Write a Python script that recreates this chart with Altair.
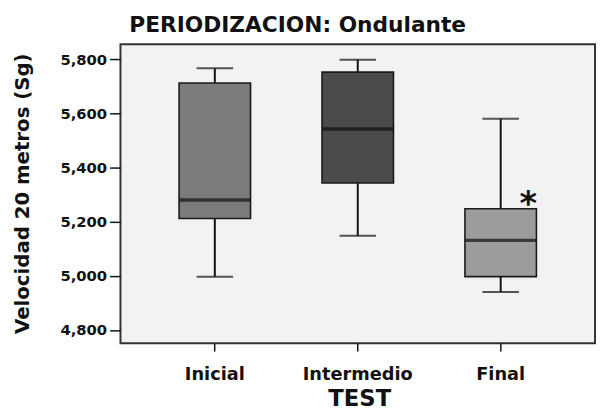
import altair as alt
import pandas as pd

categories = ["Inicial", "Intermedio", "Final"]
whisker_low = [4997, 5148, 4940]
q1 = [5212, 5343, 4997]
median = [5280, 5543, 5131]
q3 = [5713, 5753, 5248]
whisker_high = [5767, 5799, 5581]
box_colors = ["#7b7b7b", "#4b4b4b", "#9c9c9c"]

outlier_test = ["Final"]
outlier_value = [5286]

y_ticks = [4800, 5000, 5200, 5400, 5600, 5800]

df = pd.DataFrame({
    "test": categories,
    "lo": whisker_low,
    "q1": q1,
    "med": median,
    "q3": q3,
    "hi": whisker_high,
})
df_out = pd.DataFrame({"test": outlier_test, "val": outlier_value})

FONT = "DejaVu Sans"

xenc = alt.X(
    "test:N",
    sort=categories,
    scale=alt.Scale(paddingInner=0.5, paddingOuter=0.41),
    axis=alt.Axis(
        title="TEST",
        labelAngle=0,
        labelFont=FONT,
        labelFontWeight="bold",
        labelFontSize=18,
        labelColor="#111",
        labelPadding=15,
        tickSize=8,
        tickWidth=1.5,
        tickColor="#111",
        domain=False,
        grid=False,
        titleFont=FONT,
        titleFontWeight="bold",
        titleFontSize=23,
        titleColor="#111",
        titleX=242,
        titleY=56,
        titleAlign="center",
        titleBaseline="middle",
    ),
)

yscale = alt.Scale(domain=[4751, 5856], nice=False, zero=False)
yaxis = alt.Axis(
    title="Velocidad 20 metros (Sg)",
    values=y_ticks,
    format=",d",
    labelFont=FONT,
    labelFontWeight="bold",
    labelFontSize=15,
    labelColor="#111",
    labelPadding=3,
    tickSize=11,
    tickWidth=1.5,
    tickColor="#111",
    domain=False,
    grid=False,
    titleFont=FONT,
    titleFontWeight="bold",
    titleFontSize=20,
    titleColor="#111",
    titleAngle=270,
    titleX=-99,
    titleY=151,
    titleAlign="center",
    titleBaseline="middle",
)

base = alt.Chart(df)

whisker = base.mark_rule(color="#111", strokeWidth=2).encode(
    x=xenc,
    y=alt.Y("lo:Q", scale=yscale, axis=yaxis),
    y2="hi:Q",
)

caps_lo = base.mark_tick(color="#111", orient="horizontal", size=37, thickness=2).encode(
    x=xenc, y=alt.Y("lo:Q", scale=yscale)
)
caps_hi = base.mark_tick(color="#111", orient="horizontal", size=37, thickness=2).encode(
    x=xenc, y=alt.Y("hi:Q", scale=yscale)
)

box = base.mark_bar(stroke="#1a1a1a", strokeWidth=1.6).encode(
    x=xenc,
    y=alt.Y("q1:Q", scale=yscale),
    y2="q3:Q",
    color=alt.Color("test:N", scale=alt.Scale(domain=categories, range=box_colors), legend=None),
)

med = base.mark_tick(color="#111", orient="horizontal", size=72, thickness=3.5).encode(
    x=xenc, y=alt.Y("med:Q", scale=yscale)
)

outl = alt.Chart(df_out).mark_text(
    text="*", font=FONT, fontWeight="bold", fontSize=34, dx=28, dy=7,
    baseline="middle", align="center", color="#111"
).encode(x=xenc, y=alt.Y("val:Q", scale=yscale))

chart = alt.layer(whisker, caps_lo, caps_hi, box, med, outl).properties(
    width=481,
    height=303,
    padding={"left": 114, "top": 34, "right": 2, "bottom": 68},
    autosize=alt.AutoSizeParams(type="none"),
    background="white",
    title=alt.TitleParams(
        "PERIODIZACION: Ondulante",
        anchor="start",
        frame="group",
        font=FONT,
        fontWeight="bold",
        fontSize=22,
        color="#111",
        dx=9,
        offset=7,
    ),
).configure_view(
    stroke="#333", strokeWidth=2, fill="#f2f2f2"
)

chart.save("out.html", embed_options={"renderer": "svg", "actions": False})
